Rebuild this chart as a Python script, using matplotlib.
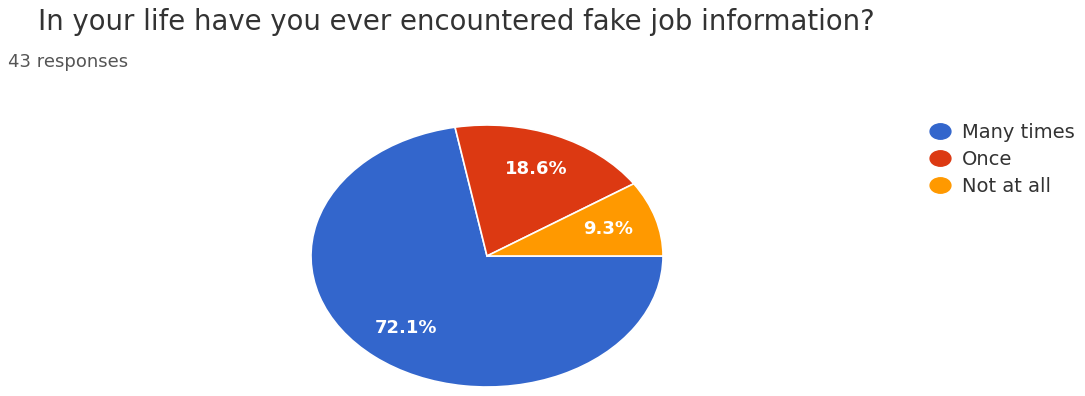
import matplotlib.pyplot as plt
from matplotlib.lines import Line2D
from matplotlib.path import Path
from matplotlib.transforms import Affine2D

TITLE = "In your life have you ever encountered fake job information?"
SUBTITLE = "43 responses"
labels = ["Many times", "Once", "Not at all"]
counts = [31, 8, 4]
colors = ["#3366cc", "#dc3912", "#ff9900"]

W, H = 1085, 396
fig = plt.figure(figsize=(W / 100, H / 100), dpi=100)
plt.rcParams['font.family'] = ['DejaVu Sans']

# the original screenshot is stretched sideways, so the pie is an ellipse
cx, cy, rx, ry = 487, 256, 176, 131
ax = fig.add_axes([(cx - rx) / W, (H - cy - ry) / H, 2 * rx / W, 2 * ry / H])
wedges, texts, autotexts = ax.pie(
    counts, colors=colors, startangle=0, counterclock=False,
    autopct='%1.1f%%', pctdistance=0.72,
    wedgeprops=dict(edgecolor='white', linewidth=1.2),
    textprops=dict(color='white', fontsize=13, fontweight='bold'))
ax.set_aspect('auto')
ax.set_xlim(-1, 1)
ax.set_ylim(-1, 1)
ax.axis('off')

fig.text(38 / W, 1 - 22 / H, TITLE, fontsize=19.8, color='#333333', va='center', ha='left')
fig.text(8 / W, 1 - 62 / H, SUBTITLE, fontsize=13, color='#555555', va='center', ha='left')

# stretched legend dots, same as the rest of the screenshot
oval = Path.unit_circle().transformed(Affine2D().scale(1.35, 1.0))
handles = [Line2D([], [], marker=oval, linestyle='none', markersize=15,
                  markerfacecolor=c, markeredgecolor=c) for c in colors]
fig.legend(handles, labels, loc='upper left', bbox_to_anchor=(920 / W, 1 - 113 / H),
           frameon=False, fontsize=14, handlelength=1.05, handletextpad=0.6,
           labelspacing=0.42, borderpad=0, labelcolor='#333333')

fig.savefig('out.png', dpi=100)
